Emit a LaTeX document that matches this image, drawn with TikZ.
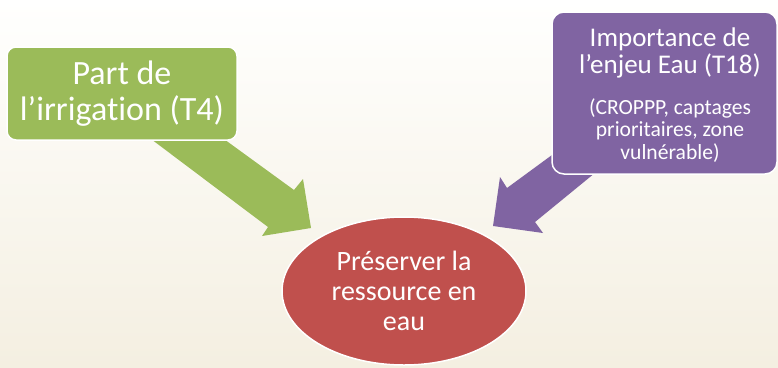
\documentclass[tikz,border=0pt]{standalone}
\usepackage{fontspec}
\setmainfont{Carlito}[RawFeature={-liga}]
\usetikzlibrary{shapes.geometric}
\definecolor{bgtop}{RGB}{255,255,254}
\definecolor{bgbot}{RGB}{244,239,225}
\definecolor{cgreen}{RGB}{155,187,89}
\definecolor{cpurple}{RGB}{128,100,162}
\definecolor{cred}{RGB}{192,80,77}
\tikzset{
  boxshape/.style={draw=white, line width=1.5pt, rectangle, inner sep=0pt},
  bigarrow/.style={line width=0pt},
  wtext/.style={text=white, align=center, inner sep=0pt},
}
\begin{document}
\begin{tikzpicture}[x=1pt,y=-1pt]
  % background
  \shade[top color=bgtop, bottom color=bgbot] (0,0) rectangle (778,367);
  \useasboundingbox (0,0) rectangle (778,367);

  % coordinates for the arrow shafts (hidden under boxes)
  \coordinate (gt1) at (139,130);
  \coordinate (gt2) at (211.5,130);
  \coordinate (pt1) at (558.8,150);
  \coordinate (pt2) at (623,150);

  % green arrow
  \fill[cgreen, bigarrow] (gt1) -- (268,227) -- (262,236) -- (311,228)
        -- (303,179) -- (294,190) -- (gt2) -- cycle;
  % purple arrow
  \fill[cpurple, bigarrow] (pt1) -- (507,188) -- (500,177) -- (493,226)
        -- (543,233) -- (535,222) -- (pt2) -- cycle;

  % green box
  \node[boxshape, fill=cgreen, rounded corners=9pt, minimum width=230pt,
        minimum height=93pt] (green) at (122,93.5) {};
  \node[wtext, font=\fontsize{34}{36}\selectfont] (greentxt) at (122,94)
        {Part de\\l’irrigation (T4)};

  % purple box
  \node[boxshape, fill=cpurple, rounded corners=12pt, minimum width=225pt,
        minimum height=162pt] (purple) at (664.5,93) {};
  \node[wtext, font=\fontsize{27}{27}\selectfont] (purpletitle) at (670,53)
        {Importance de\\l’enjeu Eau (T18)};
  \node[wtext, font=\fontsize{21.6}{22.5}\selectfont] (purplesub) at (670,130.5)
        {(CROPPP, captages\\prioritaires, zone\\vulnérable)};

  % red ellipse
  \node[ellipse, draw=white, line width=1.5pt, fill=cred, minimum width=244pt,
        minimum height=148pt, inner sep=0pt, text=white, align=center,
        font=\fontsize{28}{30}\selectfont] (goal) at (404,291)
        {Préserver la\\ressource en\\eau};
\end{tikzpicture}
\end{document}
